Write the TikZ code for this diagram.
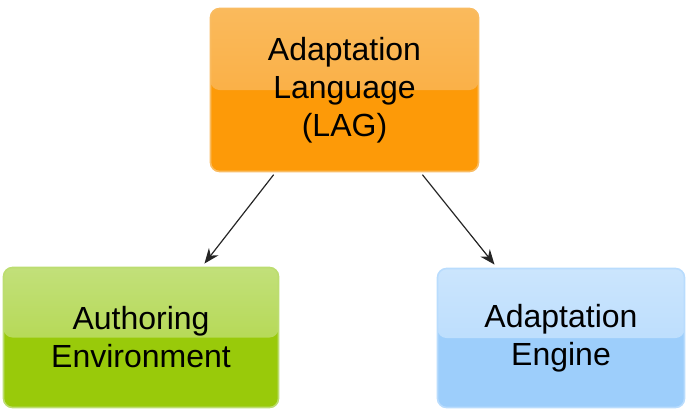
\documentclass[tikz,border=0pt]{standalone}
\usepackage{fontspec}
\setmainfont{Liberation Sans}
\usetikzlibrary{arrows.meta,calc}
\definecolor{orBot}{HTML}{FD9A08}
\definecolor{orTop}{HTML}{FABA5C}
\definecolor{orMid}{HTML}{FBA733}
\definecolor{orLine}{HTML}{F9BC62}
\definecolor{grBot}{HTML}{99CA0A}
\definecolor{grTop}{HTML}{C2E07A}
\definecolor{grMid}{HTML}{ABD336}
\definecolor{grLine}{HTML}{BCDD70}
\definecolor{blBot}{HTML}{9DCEFB}
\definecolor{blTop}{HTML}{CBE5FD}
\definecolor{blMid}{HTML}{B0D8FC}
\definecolor{blLine}{HTML}{B9DCFD}
\tikzset{
  box/.style n args={4}{draw=#4, line width=1.6pt, rounded corners=9pt,
    fill=#1, align=center, inner sep=0pt,
    font=\fontsize{32}{38}\selectfont, text=black,
    path picture={\fill[top color=#2, bottom color=#3]
      (path picture bounding box.north west) rectangle (path picture bounding box.east);}},
  arr/.style={draw=black!85, line width=1.2pt, -{Stealth[length=15pt,width=12pt]}}
}
\begin{document}
\begin{tikzpicture}[x=1pt,y=-1pt]
\useasboundingbox (0,0) rectangle (690,410);
\node[box={orBot}{orTop}{orMid}{orLine}, minimum width=268pt, minimum height=163pt] (lag) at (344.5,90) {Adaptation\\Language\\(LAG)};
\node[box={grBot}{grTop}{grMid}{grLine}, minimum width=275pt, minimum height=140pt] (auth) at (141,337.5) {Authoring\\Environment};
\node[box={blBot}{blTop}{blMid}{blLine}, minimum width=247pt, minimum height=139pt] (eng) at (561,338) {Adaptation\\Engine};
\draw[arr, shorten <=3pt, shorten >=4pt] ([xshift=-69pt]lag.south) -- ([xshift=61pt]auth.north);
\draw[arr, shorten <=3pt, shorten >=4pt] ([xshift=76pt]lag.south) -- ([xshift=-64pt]eng.north);
\end{tikzpicture}
\end{document}
